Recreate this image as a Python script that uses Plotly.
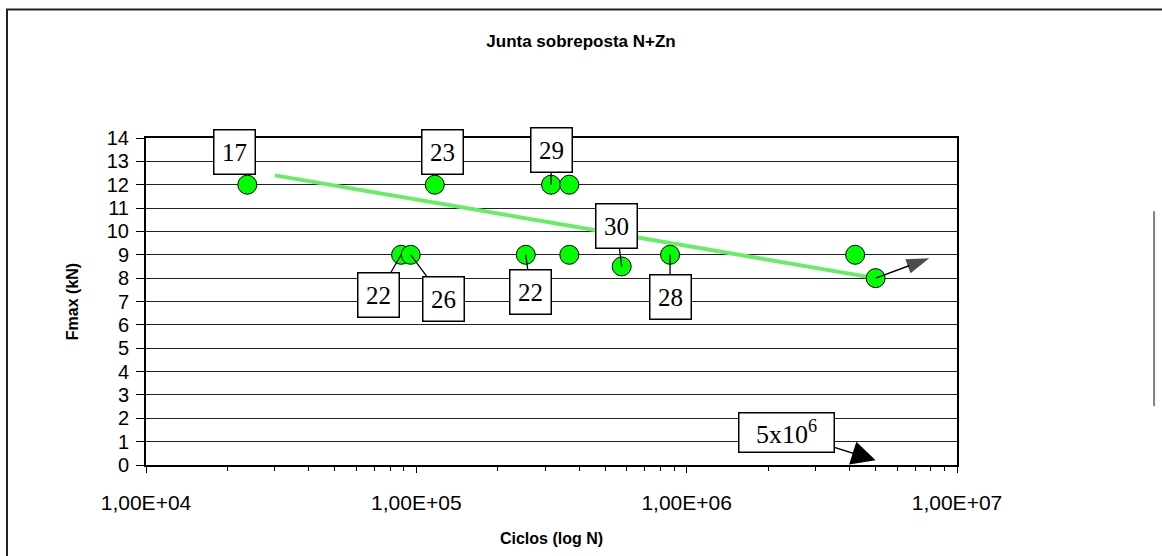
import numpy as np
import plotly.graph_objects as go

# ---- data ----
cycles = [23700, 87800, 95300, 117000, 254000, 315000, 368000, 368000, 575000, 868000, 4200000, 5000000]
fmax = [12, 9, 9, 12, 9, 12, 12, 9, 8.5, 9, 9, 8]
trend_cycles = [30000, 5000000]
trend_fmax = [12.4, 8.0]
x_tickvals = [1e4, 1e5, 1e6, 1e7]
x_ticktext = ["1,00E+04", "1,00E+05", "1,00E+06", "1,00E+07"]
y_tickvals = list(range(0, 15))
label_texts = ["17", "22", "26", "23", "22", "29", "30", "28"]
label_points = [0, 1, 2, 3, 4, 5, 8, 9]
runout_text = "5x10<sup>6</sup>"
runout_arrow_cycles = [5000000, 7900000]
runout_arrow_fmax = [8.0, 8.85]

# label placement (pixel offsets box-center relative to point), arrow flag
label_offsets = [(-13, -33, False), (-23, 40, True), (33, 44, True), (8, -33, False),
                 (5, 37, True), (0, -35, True), (-5, -40, True), (0, 42, True)]

fig = go.Figure()
fig.add_trace(go.Scatter(x=trend_cycles, y=trend_fmax, mode="lines",
                         line=dict(color="#66EE66", width=4), showlegend=False,
                         hoverinfo="skip"))
fig.add_trace(go.Scatter(x=cycles, y=fmax, mode="markers",
                         marker=dict(color="#00FF00", size=19,
                                     line=dict(color="black", width=1)),
                         showlegend=False))
# run-out arrow from the last specimen
fig.add_trace(go.Scatter(x=runout_arrow_cycles, y=runout_arrow_fmax, mode="lines+markers",
                         line=dict(color="black", width=1.5),
                         marker=dict(symbol=["circle", "arrow"], size=[0, 24],
                                     angleref="previous", color="black",
                                     line=dict(width=0)),
                         showlegend=False, hoverinfo="skip"))

serif = dict(family="Liberation Serif, Times New Roman, serif", size=25, color="black")
for txt, idx, (dx, dy, arr) in zip(label_texts, label_points, label_offsets):
    common = dict(x=np.log10(cycles[idx]), y=fmax[idx], xref="x", yref="y",
                  text=txt, font=serif, bgcolor="white", bordercolor="black",
                  borderwidth=1.5, borderpad=2, width=36, height=39)
    if arr:
        fig.add_annotation(**common, showarrow=True, arrowhead=0, arrowwidth=1.3,
                           arrowcolor="black", ax=dx, ay=dy, standoff=0)
    else:
        fig.add_annotation(**common, showarrow=False, xshift=dx, yshift=-dy)

# 5x10^6 run-out label with arrow to the axis
fig.add_annotation(x=np.log10(cycles[-1]), y=0.2, xref="x", yref="y",
                   text=runout_text, font=dict(serif, size=26), bgcolor="white",
                   bordercolor="black", borderwidth=1.5, borderpad=2,
                   width=90, height=34,
                   showarrow=True, arrowhead=2, arrowsize=3.2, arrowwidth=1.5,
                   arrowcolor="black", ax=-89, ay=-28)

# outer chart border (top & left visible) and cut-off legend edge on right
fig.add_shape(type="rect", xref="paper", yref="paper",
              x0=-0.1714, x1=1.27, y0=-0.35, y1=1.3928,
              line=dict(color="#222222", width=2), layer="above")
fig.add_shape(type="line", xref="paper", yref="paper",
              x0=1.243, x1=1.243, y0=0.180, y1=0.776,
              line=dict(color="#808080", width=2))

sans = "Liberation Sans, Arial, sans-serif"
fig.update_layout(
    width=1162, height=556,
    margin=dict(l=146, r=205, t=138, b=91),
    paper_bgcolor="white", plot_bgcolor="white",
    font=dict(family=sans, color="black"),
    title=dict(text="<b>Junta sobreposta N+Zn</b>", x=0.5, xref="container",
               y=1 - 41 / 556, yref="container", yanchor="middle", xanchor="center",
               font=dict(family=sans, size=17, color="black")),
    xaxis=dict(type="log", range=[4, 7], tickvals=x_tickvals, ticktext=x_ticktext,
               ticks="outside", ticklen=6, tickwidth=1, tickcolor="black",
               showline=True, linecolor="black", linewidth=2, mirror=True,
               showgrid=False, zeroline=False,
               tickfont=dict(family=sans, size=21, color="black"),
               ticklabelstandoff=12,
               minor=dict(ticks="outside", ticklen=4, tickcolor="black", dtick="D1",
                          showgrid=False),
               title=dict(text="<b>Ciclos (log N)</b>", standoff=20,
                          font=dict(family=sans, size=16, color="black"))),
    yaxis=dict(range=[0, 14], tickvals=y_tickvals, ticks="outside", ticklen=8,
               tickwidth=1, tickcolor="black",
               showline=True, linecolor="black", linewidth=2, mirror=True,
               showgrid=True, gridcolor="#222222", gridwidth=1, zeroline=False,
               tickfont=dict(family=sans, size=20, color="black"),
               ticklabelstandoff=3,
               title=dict(text="<b>Fmax (kN)</b>", standoff=24,
                          font=dict(family=sans, size=16, color="black"))),
)

fig.write_html("out.html")
